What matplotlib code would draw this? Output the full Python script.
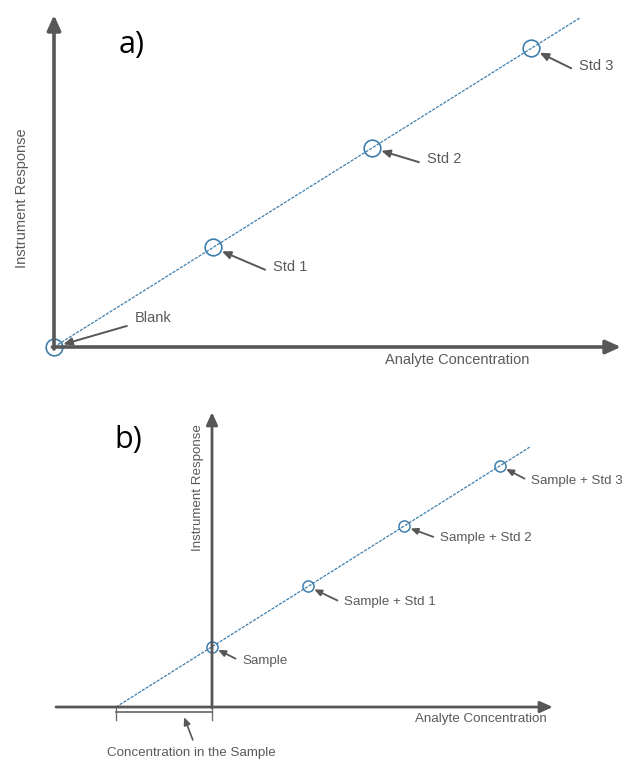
import numpy as np
import matplotlib
matplotlib.use('Agg')
import matplotlib.pyplot as plt

# panel a: external calibration
conc_a = [0, 1, 2, 3]
resp_a = [0, 1, 2, 3]
labels_a = ['Blank', 'Std 1', 'Std 2', 'Std 3']

# panel b: standard addition
added_b = [0, 1, 2, 3]
resp_b = [1, 2, 3, 4]
labels_b = ['Sample', 'Sample + Std 1', 'Sample + Std 2', 'Sample + Std 3']

AXC = '#575757'
TXC = '#5a5a5a'
LINEC = '#3f7fae'
FONT = 'Liberation Sans'

plt.rcParams['font.family'] = [FONT, 'DejaVu Sans']

fig = plt.figure(figsize=(6.26, 7.59), dpi=100)
ax_a = fig.add_axes([0, 379 / 759, 1, 380 / 759])
ax_b = fig.add_axes([0, 0, 1, 379 / 759])

for ax in (ax_a, ax_b):
    ax.set_axis_off()


def axis_arrow(ax, start, tip, lw, head):
    ax.annotate('', xy=tip, xytext=start,
                arrowprops=dict(arrowstyle='-|>,head_length=%s,head_width=%s' % (head, head * 0.45),
                                color=AXC, lw=lw, shrinkA=0, shrinkB=0))


# ---- a) ----
ax_a.set_xlim(-0.3396, 3.5975)
ax_a.set_ylim(-0.3317, 3.4874)

axis_arrow(ax_a, (0, -0.02), (0, 3.337), 2.6, 0.9)
axis_arrow(ax_a, (-0.01, 0), (3.566, 0), 2.6, 0.9)

fit_a = np.polyfit(conc_a, resp_a, 1)
xl = np.array([0, 3.31])
ax_a.plot(xl, np.polyval(fit_a, xl), color=LINEC, lw=0.9, ls=(0, (2.5, 1)))
ax_a.plot(conc_a, resp_a, 'o', ms=12, mfc='none', mec=LINEC, mew=1.2)

offs_a = [(81, 29), (60, -20), (55, -11), (48, -18)]
for x, y, lab, off in zip(conc_a, resp_a, labels_a, offs_a):
    ax_a.annotate(lab, xy=(x, y), xytext=off, textcoords='offset pixels',
                  ha='left', va='center', fontsize=10.5, color=TXC,
                  arrowprops=dict(arrowstyle='-|>,head_length=0.5,head_width=0.22',
                                  color=AXC, lw=1.4, relpos=(0, 0.1),
                                  shrinkA=4, shrinkB=7))

ax_a.text(-0.2, 1.5, 'Instrument Response', rotation=90, ha='center', va='center',
          fontsize=10.5, color=TXC)
ax_a.text(2.535, -0.13, 'Analyte Concentration', ha='center', va='center',
          fontsize=10.5, color=TXC)
ax_a.text(0.49, 3.035, 'a)', ha='center', va='center', fontsize=22,
          family=['Open Sans', 'DejaVu Sans'], color='black')

# ---- b) ----
ax_b.set_xlim(-2.2083, 4.3125)
ax_b.set_ylim(-0.862, 5.423)

axis_arrow(ax_b, (0, -0.01), (0, 4.89), 2.0, 0.75)
axis_arrow(ax_b, (-1.625, 0), (3.55, 0), 2.0, 0.75)

fit_b = np.polyfit(added_b, resp_b, 1)
x_int = -fit_b[1] / fit_b[0]
xl = np.array([x_int, 3.31])
ax_b.plot(xl, np.polyval(fit_b, xl), color=LINEC, lw=0.9, ls=(0, (2.5, 1)))
ax_b.plot(added_b, resp_b, 'o', ms=8, mfc='none', mec=LINEC, mew=1.1)

offs_b = [(30, -14), (36, -16), (36, -12), (31, -15)]
for x, y, lab, off in zip(added_b, resp_b, labels_b, offs_b):
    ax_b.annotate(lab, xy=(x, y), xytext=off, textcoords='offset pixels',
                  ha='left', va='center', fontsize=9.6, color=TXC,
                  arrowprops=dict(arrowstyle='-|>,head_length=0.45,head_width=0.2',
                                  color=AXC, lw=1.3, relpos=(0, 0.4),
                                  shrinkA=3, shrinkB=5))

# bracket showing the concentration in the sample
ax_b.plot([x_int, 0], [-0.085, -0.085], color='#6f6f6f', lw=1.3)
ax_b.plot([x_int, x_int], [-0.01, -0.215], color='#6f6f6f', lw=1.0)
ax_b.plot([0, 0], [-0.01, -0.215], color='#6f6f6f', lw=1.0)
ax_b.annotate('', xy=(-0.29, -0.17), xytext=(-0.2, -0.545),
              arrowprops=dict(arrowstyle='-|>,head_length=0.45,head_width=0.2',
                              color=AXC, lw=1.2, shrinkA=0, shrinkB=0))
ax_b.text(-0.21, -0.77, 'Concentration in the Sample', ha='center', va='center',
          fontsize=9.6, color=TXC)

ax_b.text(-0.15, 3.64, 'Instrument Response', rotation=90, ha='center', va='center',
          fontsize=9.6, color=TXC)
ax_b.text(2.8, -0.2, 'Analyte Concentration', ha='center', va='center',
          fontsize=9.6, color=TXC)
ax_b.text(-0.875, 4.43, 'b)', ha='center', va='center', fontsize=22,
          family=['Open Sans', 'DejaVu Sans'], color='black')

fig.savefig('out.png', dpi=100)
